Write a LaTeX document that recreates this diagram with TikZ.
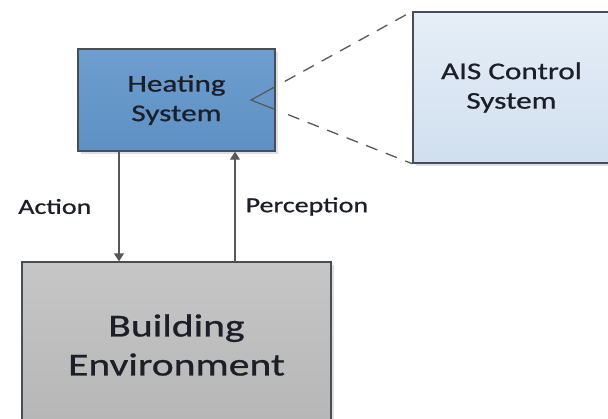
\documentclass[tikz,border=0pt]{standalone}
\usepackage{fontspec}
\setmainfont{Carlito}[FakeStretch=1.3, FakeBold=0.8]
\usetikzlibrary{arrows.meta, shadows}

\definecolor{heattop}{RGB}{110,158,206}
\definecolor{heatbot}{RGB}{94,144,196}
\definecolor{aistop}{RGB}{230,238,247}
\definecolor{aisbot}{RGB}{208,223,239}
\definecolor{envtop}{RGB}{198,198,198}
\definecolor{envbot}{RGB}{182,182,182}
\definecolor{boxline}{RGB}{72,78,86}
\definecolor{linegray}{RGB}{88,88,88}
\definecolor{inktext}{RGB}{28,30,40}

\begin{document}
\begin{tikzpicture}[x=1pt, y=-1pt,
    box/.style={draw=boxline, line width=1.4pt, inner sep=0pt, align=center, text=inktext,
      drop shadow={shadow xshift=2.5pt, shadow yshift=-2.5pt, opacity=.25}},
    link/.style={draw=linegray, line width=1.4pt, -{Triangle[width=10pt,length=8pt]}},
    zoomline/.style={draw=linegray, line width=1.3pt, dash pattern=on 12pt off 9pt},
    lbl/.style={inner sep=0pt, text=inktext, font=\fontsize{21.5}{26}\selectfont}]
    \useasboundingbox (0,0) rectangle (608,418);
    \node[box, minimum width=197pt, minimum height=102pt, top color=heattop, bottom color=heatbot,
      font=\fontsize{24}{29.5}\selectfont] (heat) at (176.5,100) {Heating\\System};
    \node[box, minimum width=197pt, minimum height=151pt, top color=aistop, bottom color=aisbot,
      font=\fontsize{24}{29.5}\selectfont] (ais) at (511.5,87.5) {AIS Control\\System};
    \node[box, minimum width=309pt, minimum height=166pt, top color=envtop, bottom color=envbot,
      font=\fontsize{32}{39}\selectfont] (env) at (176.5,345) {Building\\Environment};
    % action / perception loop
    \draw[link] ([xshift=-57.5pt]heat.south) -- ([xshift=-57.5pt]env.north)
      node[midway, lbl, left=27pt] {Action};
    \draw[link] ([xshift=58.5pt]env.north) -- ([xshift=58.5pt]heat.south)
      node[midway, lbl, right=10pt] {Perception};
    % zoom wedge
    \coordinate (apex) at (251,100);
    \path (apex) -- (ais.north west) coordinate[pos=.148] (w1) coordinate[pos=.21] (d1);
    \path (apex) -- (ais.south west) coordinate[pos=.148] (w2) coordinate[pos=.23] (d2);
    \draw[draw=linegray, line width=1.2pt] (w1) -- (apex) -- (w2);
    \draw[zoomline] (d1) -- (ais.north west);
    \draw[zoomline] (d2) -- (ais.south west);
\end{tikzpicture}
\end{document}
